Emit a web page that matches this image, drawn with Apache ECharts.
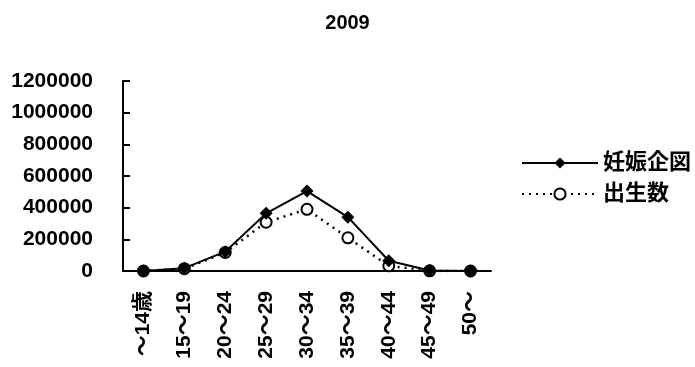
<!DOCTYPE html>
<html>
<head>
<meta charset="utf-8">
<script src="https://cdn.jsdelivr.net/npm/echarts@6/dist/echarts.min.js"></script>
<style>
  html, body { margin: 0; padding: 0; background: #fff; }
  #chart { width: 695px; height: 367px; }
</style>
</head>
<body>
<div id="chart"></div>
<script>
// Age groups of the mother
const ageGroups = ['～14歳', '15～19', '20～24', '25～29', '30～34', '35～39', '40～44', '45～49', '50～'];
// Pregnancies intended (妊娠企図)
const pregnancyIntent = [200, 18000, 122000, 364000, 505000, 340000, 65000, 3000, 100];
// Live births (出生数)
const births = [67, 14687, 116808, 307765, 389793, 209706, 32522, 1004, 19];

const yMin = 0, yMax = 1200000, yStep = 200000;
const FONT = '"Liberation Sans", "Noto Sans CJK JP", sans-serif';

const chart = echarts.init(document.getElementById('chart'), null, { renderer: 'canvas' });
chart.setOption({
  animation: false,
  backgroundColor: '#fff',
  title: {
    text: '2009',
    left: 'center',
    top: 8,
    textStyle: { fontFamily: FONT, fontWeight: 'bold', fontSize: 20, color: '#000' }
  },
  legend: {
    orient: 'vertical',
    left: 516,
    top: 147,
    itemWidth: 76,
    itemHeight: 14,
    itemGap: 9,
    data: ['妊娠企図', '出生数'],
    textStyle: { fontFamily: FONT, fontWeight: 'bold', fontSize: 22, color: '#000' }
  },
  grid: { left: 123, right: 204, top: 81, bottom: 96 },
  xAxis: {
    type: 'category',
    data: ageGroups,
    boundaryGap: true,
    axisLine: { lineStyle: { color: '#000', width: 2 } },
    axisTick: { inside: true, length: 7, lineStyle: { color: '#000', width: 2 } },
    axisLabel: {
      rotate: 90,
      margin: 20,
      fontFamily: FONT,
      fontWeight: 'bold',
      fontSize: 21,
      color: '#000'
    }
  },
  yAxis: {
    type: 'value',
    min: yMin,
    max: yMax,
    interval: yStep,
    splitLine: { show: false },
    axisLine: { show: true, lineStyle: { color: '#000', width: 2 } },
    axisTick: { show: true, inside: true, length: 7, lineStyle: { color: '#000', width: 2 } },
    axisLabel: {
      margin: 30,
      formatter: v => String(v),
      fontFamily: FONT,
      fontWeight: 'bold',
      fontSize: 21,
      color: '#000'
    }
  },
  series: [
    {
      name: '妊娠企図',
      type: 'line',
      data: pregnancyIntent,
      z: 4,
      symbol: 'diamond',
      symbolSize: 13,
      itemStyle: { color: '#000' },
      lineStyle: { color: '#000', width: 2 }
    },
    {
      name: '出生数',
      type: 'line',
      data: births,
      z: 3,
      symbol: 'circle',
      symbolSize: 11,
      itemStyle: { color: '#fff', borderColor: '#000', borderWidth: 2 },
      lineStyle: { color: '#000', width: 2.5, type: [2, 5] }
    }
  ]
});
</script>
</body>
</html>
